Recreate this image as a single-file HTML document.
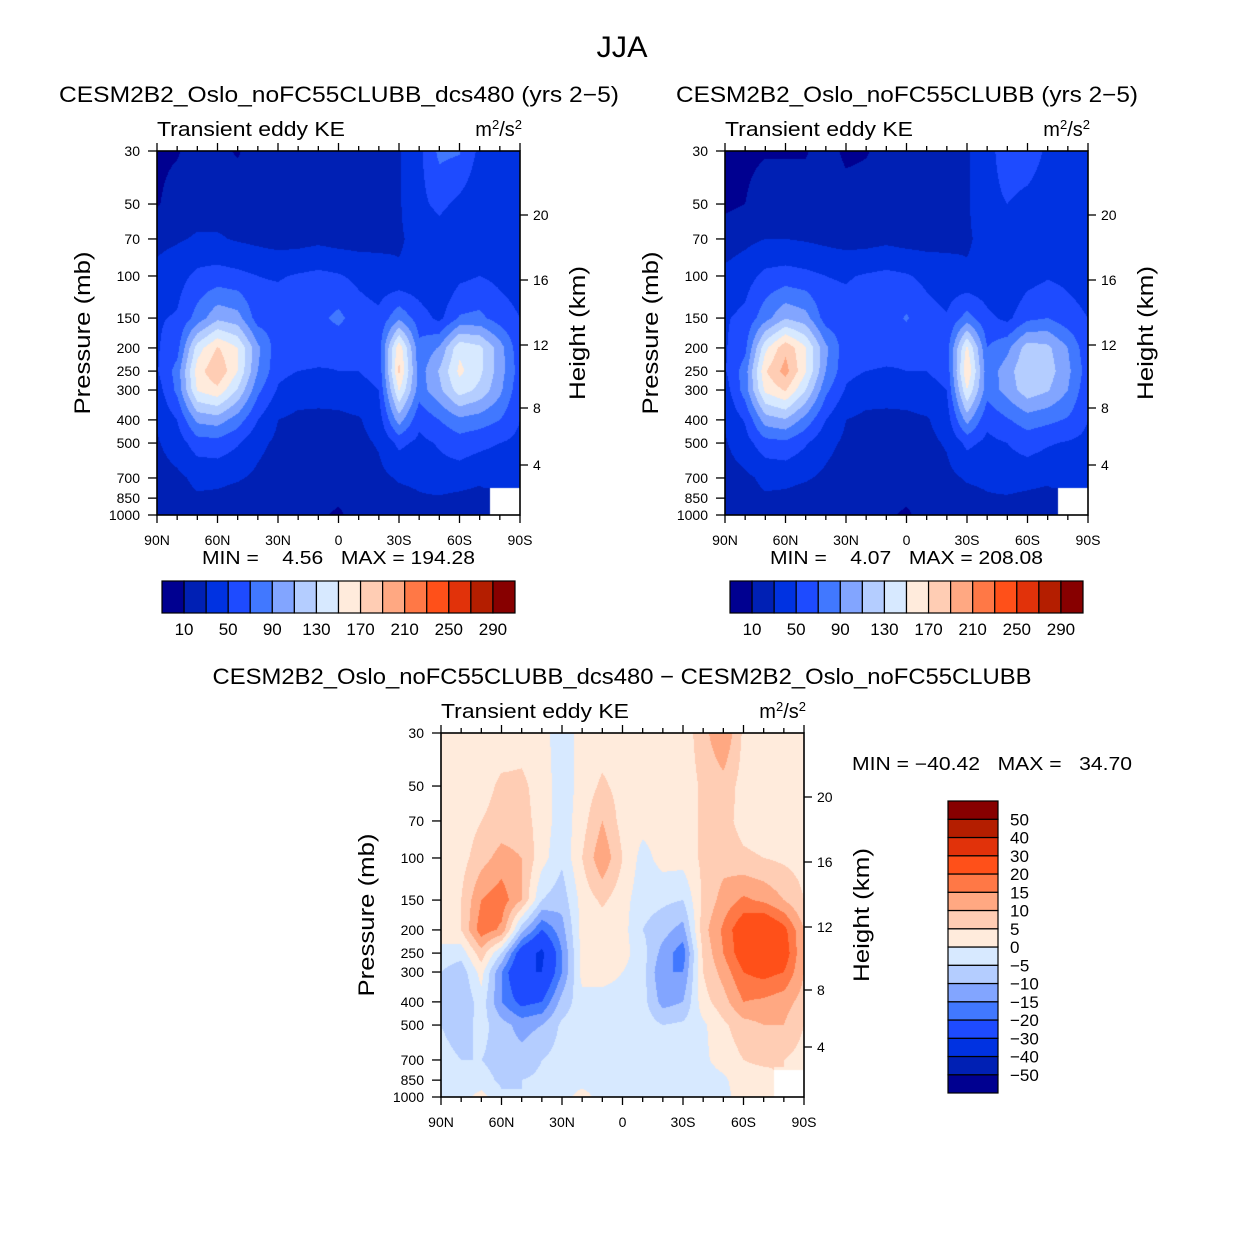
<!DOCTYPE html>
<html><head><meta charset="utf-8">
<style>
html,body{margin:0;padding:0;background:#fff;width:1246px;height:1246px;overflow:hidden;}
#wrap{position:relative;width:1246px;height:1246px;}
canvas{position:absolute;}
svg{position:absolute;left:0;top:0;}
text{font-family:"Liberation Sans",sans-serif;fill:#000;white-space:pre;}
</style></head>
<body>
<div id="wrap">
<canvas id="c1" width="363" height="364" style="left:157px;top:151px"></canvas>
<canvas id="c2" width="363" height="364" style="left:725px;top:151px"></canvas>
<canvas id="c3" width="363" height="364" style="left:441px;top:733px"></canvas>
<svg id="ov" width="1246" height="1246"></svg>
</div>
<script>
const lats=[90,80,70,60,50,40,30,20,10,0,-10,-20,-30,-40,-50,-60,-70,-80,-90];
const pres=[30,50,70,100,150,200,250,300,400,500,700,850,1000];
const absLevels=[10,30,50,70,90,110,130,150,170,190,210,230,250,270,290];
const diffLevels=[-50,-40,-30,-20,-15,-10,-5,0,5,10,15,20,30,40,50];
const colors=["#000090","#0020b4","#0032e1","#1e4bff","#4178ff","#82a5ff","#b4cdff","#d7e9ff","#ffebdc","#ffcdb4","#ffa882","#ff7846","#ff5019","#e1320a","#b41e00","#870000"];
const absTickLabels=["10","50","90","130","170","210","250","290"];
const pTicks=[30,50,70,100,150,200,250,300,400,500,700,850,1000];
const zTicks=[20,16,12,8,4];
const latTickLabels=["90N","60N","30N","0","30S","60S","90S"];
const N=null;
const ke1=[
[5,8,20,15,8,20,20,20,20,20,20,20,28,45,75,72,45,35,35],
[8,20,22,22,22,22,22,22,22,22,22,25,28,45,55,45,35,35,35],
[25,28,32,32,28,25,22,22,25,22,22,25,28,35,40,35,35,35,35],
[35,42,55,58,55,50,48,52,55,52,45,38,32,35,30,45,50,45,40],
[48,52,78,105,98,60,62,70,65,75,60,55,85,60,45,72,75,60,50],
[48,62,140,172,150,95,58,62,60,55,52,60,165,75,92,145,135,100,55],
[48,78,160,188,150,90,55,50,48,50,50,55,175,80,112,155,135,100,60],
[40,75,152,165,128,75,48,40,38,40,45,50,152,80,105,140,125,95,55],
[32,50,95,100,80,50,30,25,25,25,28,40,100,55,70,85,80,70,50],
[28,40,60,62,52,35,26,22,22,22,25,32,55,45,52,60,55,50,45],
[22,26,34,35,32,26,20,18,18,18,20,25,32,34,42,40,35,35,35],
[22,25,28,26,22,20,16,15,15,12,15,20,24,28,28,25,22,N,N],
[22,25,30,30,25,20,15,12,12,8,15,20,22,30,28,28,20,N,N]];
const ke2=[
[5,5,8,8,8,20,5,8,20,20,20,20,28,40,65,65,45,35,35],
[6,10,22,22,22,22,20,22,22,22,22,25,28,42,50,42,35,35,35],
[20,25,30,30,28,25,22,22,25,22,22,25,28,35,38,35,35,35,35],
[35,42,55,58,55,50,48,52,55,52,45,38,32,35,30,42,48,45,40],
[48,55,82,108,98,60,58,65,60,72,58,52,78,55,45,65,70,58,50],
[48,65,145,185,152,95,58,60,58,55,52,60,155,70,85,120,115,90,55],
[48,80,168,198,152,90,55,50,48,50,50,55,170,78,100,130,120,95,60],
[40,80,155,172,130,75,48,40,38,40,45,50,150,78,98,122,112,90,55],
[32,52,100,108,82,50,30,25,25,25,28,40,98,55,68,80,75,68,50],
[28,42,62,65,52,36,26,22,22,22,25,32,55,45,50,58,52,48,45],
[22,26,34,35,32,26,20,18,18,18,20,25,32,34,40,38,35,35,35],
[22,25,28,26,22,20,16,15,15,12,15,20,24,28,28,25,22,N,N],
[22,25,30,30,25,20,15,12,12,8,15,20,22,30,28,28,20,N,N]];
const dke=[
[2,2,2,2,3,2,-3,2,2,2,2,2,2,8,15,4,2,2,2],
[2,2,3,6,6,3,-3,2,6,3,2,2,2,6,8,3,2,2,2],
[2,2,5,7,7,3,-3,3,10,3,2,2,2,6,7,3,2,2,2],
[2,3,8,12,10,2,-4,5,14,5,-2,2,2,6,8,6,5,4,3],
[2,5,15,18,10,-5,-8,2,6,2,-3,-4,-5,6,12,16,14,10,5],
[3,5,18,14,-8,-20,-12,2,2,2,-5,-8,-12,8,16,25,28,22,10],
[-2,-3,8,-5,-25,-32,-15,2,2,2,-3,-12,-18,6,15,24,28,24,10],
[-5,-8,2,-15,-30,-30,-15,2,2,0,-3,-15,-15,5,12,20,22,20,10],
[-8,-10,-2,-15,-22,-20,-8,-2,-2,-2,-3,-12,-10,3,8,15,14,12,8],
[-5,-8,-3,-8,-12,-10,-4,-2,-4,-2,-2,-5,-4,-1,4,8,10,10,5],
[-3,-5,-5,-7,-8,-5,-3,-2,-4,-3,-1,-3,-2,-1,2,5,6,5,3],
[-2,-3,-3,-6,-5,-4,-2,-2,-2,-2,-1,-2,-1,-2,-1,3,3,N,N],
[-2,-2,2,-4,-5,-3,-2,2,-2,-2,-1,-2,-1,-4,-2,3,2,N,N]];

const W=363,H=364;
function yOfP(p){return Math.log(p/30)/Math.log(1000/30)*H;}
function xOfLat(l){return (90-l)/180*W;}
function hex(c){return [parseInt(c.substr(1,2),16),parseInt(c.substr(3,2),16),parseInt(c.substr(5,2),16)];}
const rgb=colors.map(hex);
function fill(id,grid,levels){
  const ctx=document.getElementById(id).getContext('2d');
  const img=ctx.createImageData(W,H);
  const ly=pres.map(yOfP);
  for(let py=0;py<H;py++){
    const y=py+0.5;
    let r=0;while(r<pres.length-2&&ly[r+1]<y)r++;
    const ty=Math.min(1,Math.max(0,(y-ly[r])/(ly[r+1]-ly[r])));
    for(let px=0;px<W;px++){
      const fx=(px+0.5)/W*(lats.length-1);
      let c=Math.min(lats.length-2,Math.floor(fx));const tx=fx-c;
      const a=grid[r][c],b=grid[r][c+1],d=grid[r+1][c],e=grid[r+1][c+1];
      const near=grid[ty<0.5?r:r+1][tx<0.5?c:c+1];
      const k=(py*W+px)*4;
      if(near===null){img.data[k]=255;img.data[k+1]=255;img.data[k+2]=255;img.data[k+3]=255;continue;}
      const f=v=>v===null?near:v;
      const v=(f(a)*(1-tx)+f(b)*tx)*(1-ty)+(f(d)*(1-tx)+f(e)*tx)*ty;
      let i=0;while(i<levels.length&&v>=levels[i])i++;
      const col=rgb[i];
      img.data[k]=col[0];img.data[k+1]=col[1];img.data[k+2]=col[2];img.data[k+3]=255;
    }
  }
  ctx.putImageData(img,0,0);
}
fill('c1',ke1,absLevels);
fill('c2',ke2,absLevels);
fill('c3',dke,diffLevels);

const NS="http://www.w3.org/2000/svg";
const svg=document.getElementById('ov');
function el(tag,attrs,txt){const e=document.createElementNS(NS,tag);for(const k in attrs)e.setAttribute(k,attrs[k]);if(txt!==undefined)e.textContent=txt;svg.appendChild(e);return e;}
function T(x,y,s,size,anchor,name,extra){
  const t=el('text',Object.assign({x:x,y:y,'font-size':size,'text-anchor':anchor||'start'},extra||{}),s);
  
  
  return t;
}
function L(len){return {textLength:len,lengthAdjust:'spacingAndGlyphs'};}
function unitsLabel(xr,y,name){
  const t=el('text',{x:xr,y:y,'font-size':20,'text-anchor':'end'});
  
  
  t.innerHTML='m<tspan dy="-7" font-size="13">2</tspan><tspan dy="7">/s</tspan><tspan dy="-7" font-size="13">2</tspan>';
}
function panel(x0,y0,pfx){
  const g=el('rect',{x:x0,y:y0,width:W,height:H,fill:'none',stroke:'#000','stroke-width':1.6});
  
  
  pTicks.forEach(p=>{
    const y=y0+yOfP(p);
    el('line',{x1:x0-9,y1:y,x2:x0,y2:y,stroke:'#000','stroke-width':1.3});
    T(x0-17,y+5,String(p),14,'end',pfx+'-pressure-tick-label');
  });
  const zOff={20:64,16:129,12:194,8:257,4:314};
  zTicks.forEach(z=>{
    const y=y0+zOff[z];
    el('line',{x1:x0+W,y1:y,x2:x0+W+8,y2:y,stroke:'#000','stroke-width':1.3});
    T(x0+W+13,y+5,String(z),14,'start',pfx+'-height-tick-label');
  });
  for(let l=90;l>=-90;l-=10){
    const x=x0+xOfLat(l);const major=(l%30===0);
    el('line',{x1:x,y1:y0+H,x2:x,y2:y0+H+(major?8:5),stroke:'#000','stroke-width':1.3});
    el('line',{x1:x,y1:y0,x2:x,y2:y0-(major?8:5),stroke:'#000','stroke-width':1.3});
  }
  latTickLabels.forEach((s,i)=>{T(x0+i*W/6,y0+H+30,s,14,'middle',pfx+'-lat-tick-label');});
  T(x0,y0-15,'Transient eddy KE',20,'start',pfx+'-subtitle',L(188));
  unitsLabel(x0+W+2,y0-15,pfx+'-units-label');
  T(0,0,'Pressure (mb)',22,'middle',pfx+'-y-axis-title',Object.assign({transform:`translate(${x0-67},${y0+182}) rotate(-90)`},L(163)));
  T(0,0,'Height (km)',22,'middle',pfx+'-y2-axis-title',Object.assign({transform:`translate(${x0+W+65},${y0+182}) rotate(-90)`},L(134)));
}
panel(157,151,'left');
panel(725,151,'right');
panel(441,733,'diff');

T(622,57,'JJA',30,'middle','figure-title',L(51));
T(339,102,'CESM2B2_Oslo_noFC55CLUBB_dcs480 (yrs 2\u22125)',22,'middle','left-panel-title',L(560));
T(907,102,'CESM2B2_Oslo_noFC55CLUBB (yrs 2\u22125)',22,'middle','right-panel-title',L(462));
T(622,684,'CESM2B2_Oslo_noFC55CLUBB_dcs480 \u2212 CESM2B2_Oslo_noFC55CLUBB',22,'middle','diff-panel-title',L(819));
T(202,564,'MIN =    4.56   MAX = 194.28',18,'start','left-min-max',L(273));
T(770,564,'MIN =    4.07   MAX = 208.08',18,'start','right-min-max',L(273));
T(852,770,'MIN = \u221240.42   MAX =   34.70',18,'start','diff-min-max',L(280));

function hbar(x0,y0,pfx){
  const bw=353/16;
  colors.forEach((c,i)=>{
    const r=el('rect',{x:x0+i*bw,y:y0,width:bw,height:32,fill:c,stroke:'#000','stroke-width':1.2});
    
    
  });
  absTickLabels.forEach((s,i)=>{T(x0+bw*(1+2*i),y0+54,s,17,'middle',pfx+'-colorbar-label');});
}
hbar(162,581,'left');
hbar(730,581,'right');
const bh=292/16;
colors.forEach((c,i)=>{
  const r=el('rect',{x:948,y:801+(15-i)*bh,width:50,height:bh,fill:c,stroke:'#000','stroke-width':1.2});
  
  
});
diffLevels.forEach((v,i)=>{
  const y=801+(15-i)*bh;
  T(1010,y+6,v<0?'\u2212'+(-v):String(v),17,'start','diff-colorbar-label');
});
</script>
</body></html>
